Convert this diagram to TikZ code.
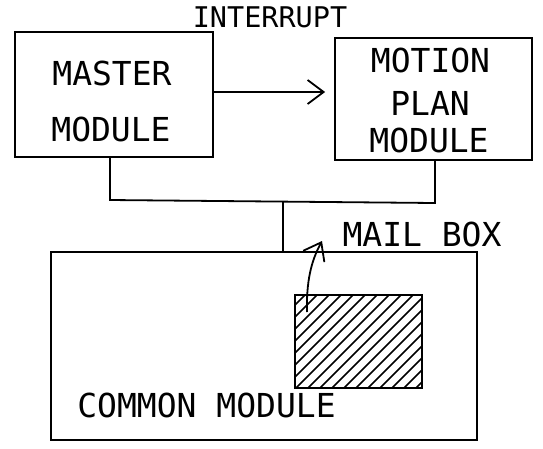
\documentclass[tikz,border=0pt]{standalone}
\usepackage{fontspec}
\setmonofont{DejaVu Sans Mono}
\usetikzlibrary{arrows.meta}
\tikzset{
  box/.style={draw, line width=1.8pt, inner sep=0pt, rectangle},
  txt/.style={inner sep=0pt, font=\ttfamily\fontsize{33}{39}\selectfont},
  smalltxt/.style={inner sep=0pt, font=\ttfamily\fontsize{28.5}{34}\selectfont},
  conn/.style={line width=1.8pt},
  arr/.style={line width=1.8pt, -{Straight Barb[length=16pt,width=24pt,line width=1.8pt]}},
  hatchline/.style={line width=1.7pt}
}
\begin{document}
\begin{tikzpicture}[x=1pt,y=-1pt]
\useasboundingbox (0,0) rectangle (543,448);
% boxes
\node[box, minimum width=198pt, minimum height=125pt] (master) at (114,94.5) {};
\node[box, minimum width=197pt, minimum height=122pt] (motion) at (433.5,99) {};
\node[box, minimum width=426pt, minimum height=188pt] (common) at (264,346) {};
\node[box, minimum width=127pt, minimum height=93pt] (mailbox) at (358.5,341.5) {};
% hatch
\begin{scope}
  \clip (295,295) rectangle (422,388);
  \foreach \i in {0,...,19} {
    \draw[hatchline] ({198+\i*12},390) -- ++(97,-97);
  }
\end{scope}
\node[box, minimum width=127pt, minimum height=93pt] at (358.5,341.5) {};
% texts
\node[txt] (mastert1) at (112,73.5) {MASTER};
\node[txt] (mastert2) at (111,129) {MODULE};
\node[txt] (motiont1) at (430.5,60) {MOTION};
\node[txt] (motiont2) at (430,103.5) {PLAN};
\node[txt] (motiont3) at (429,140) {MODULE};
\node[txt] (commont) at (206.5,405) {COMMON MODULE};
\node[smalltxt] (interrupt) at (270,17) {INTERRUPT};
\node[txt] (mailt) at (422,234) {MAIL BOX};
% connectors
\coordinate (j1) at (110,200);
\coordinate (j2) at (435,203);
\coordinate (j3) at (283,201.5);
\draw[conn] (master.south -| j1) -- (j1) -- (j2) -- (j2 |- motion.south);
\draw[conn] (j3) -- (j3 |- common.north);
% interrupt arrow
\coordinate (ia) at (213,92);
\draw[arr, shorten >=9pt] (ia) -- (ia -| motion.west);
% mail box arrow
\coordinate (mb0) at (307,312);
\coordinate (mbtip) at (322,241);
\draw[arr] (mb0) .. controls (306,275) and (314,256) .. (mbtip);
\end{tikzpicture}
\end{document}
